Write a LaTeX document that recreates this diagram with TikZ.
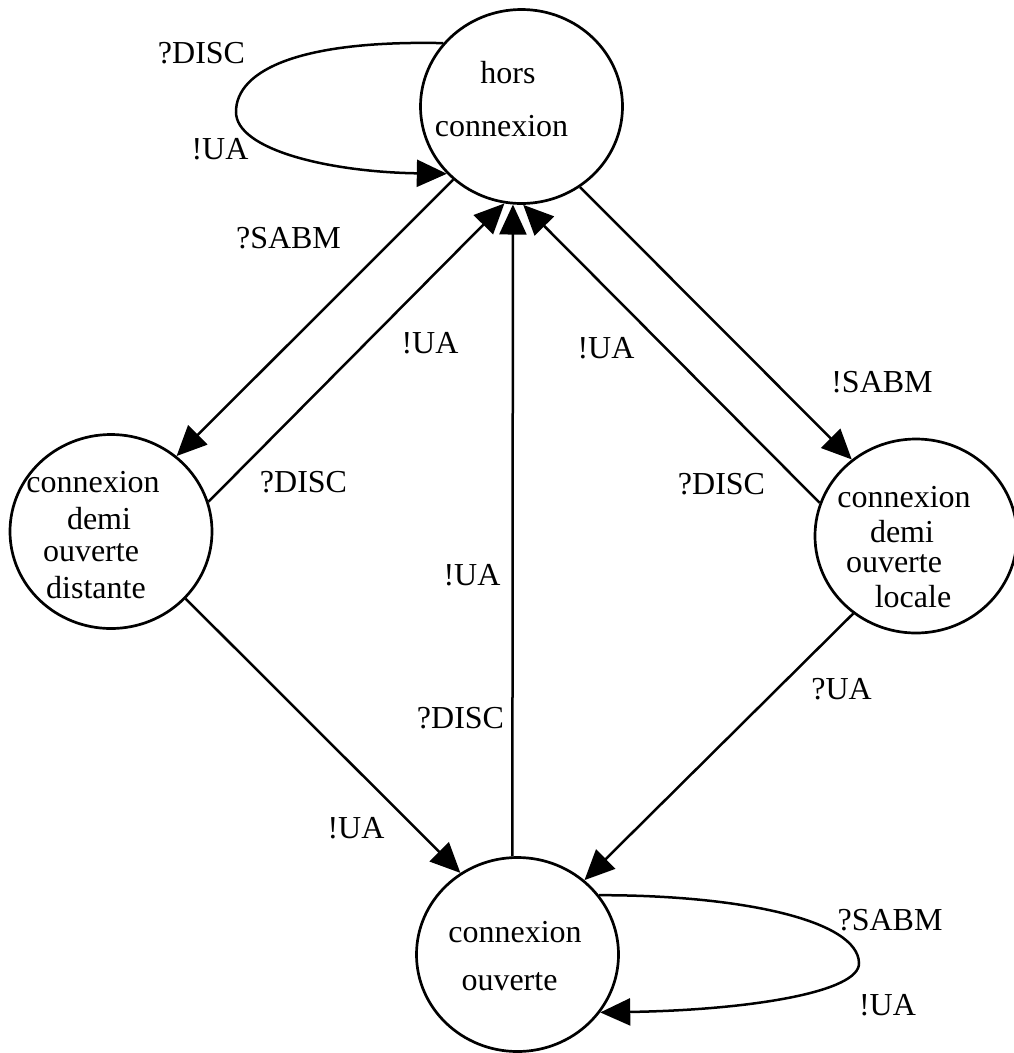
\documentclass[tikz,border=0pt]{standalone}
\usepackage{fontspec}
\setmainfont{Liberation Serif}
\usetikzlibrary{arrows.meta,shapes.geometric}
\begin{document}
\begin{tikzpicture}[x=1pt,y=-1pt,
  state/.style={draw,ellipse,line width=2.7pt,minimum width=202pt,minimum height=194pt,inner sep=0pt},
  txt/.style={anchor=base,inner sep=0pt,font=\fontsize{32}{36}\selectfont},
  edge/.style={line width=2.5pt,-{Triangle[length=30pt,width=27pt]}}]
\useasboundingbox (0,0) rectangle (1014,1053);

% states
\node[state] (T) at (521.5,106.5) {};
\node[state] (L) at (111,531.5) {};
\node[state] (R) at (916,536) {};
\node[state] (B) at (517.5,954.5) {};

% state names
\node[txt] (t1) at (508,83) {hors};
\node[txt] (t2) at (501.5,136) {connexion};
\node[txt] (l1) at (93,492) {connexion};
\node[txt] (l2) at (99,529) {demi};
\node[txt] (l3) at (91,561) {ouverte};
\node[txt] (l4) at (96,598) {distante};
\node[txt] (r1) at (904,507) {connexion};
\node[txt] (r2) at (902,542) {demi};
\node[txt] (r3) at (894,572) {ouverte};
\node[txt] (r4) at (913,607) {locale};
\node[txt] (b1) at (515,942) {connexion};
\node[txt] (b2) at (509.5,990) {ouverte};

% transitions
\draw[edge] (T.141) .. controls (300,40) and (236,70) .. (236,112)
            .. controls (236,150) and (330,172) .. (T.222);
\draw[edge] (T.227) -- (L.49);
\draw[edge] (L.17) -- (T.260);
\draw[edge] (B.93) -- (T.265);
\draw[edge] (R.161) -- (T.271);
\draw[edge] (T.306) -- (R.130);
\draw[edge] (L.318) -- (B.125);
\draw[edge] (R.231) -- (B.48);
\draw[edge] (B.36) .. controls (740,895) and (858,920) .. (859,963)
            .. controls (860,992) and (750,1010) .. (B.325);

% transition labels
\node[txt] (e1) at (201.5,63) {?DISC};
\node[txt] (e2) at (220,159) {!UA};
\node[txt] (e3) at (288.5,248) {?SABM};
\node[txt] (e4) at (430,353) {!UA};
\node[txt] (e5) at (303.5,492) {?DISC};
\node[txt] (e6) at (606,358) {!UA};
\node[txt] (e7) at (721.5,494) {?DISC};
\node[txt] (e8) at (882,392) {!SABM};
\node[txt] (e9) at (472,585) {!UA};
\node[txt] (e10) at (460.5,728) {?DISC};
\node[txt] (e11) at (356,838) {!UA};
\node[txt] (e12) at (841.5,699) {?UA};
\node[txt] (e13) at (890,930) {?SABM};
\node[txt] (e14) at (887.5,1015) {!UA};
\end{tikzpicture}
\end{document}
